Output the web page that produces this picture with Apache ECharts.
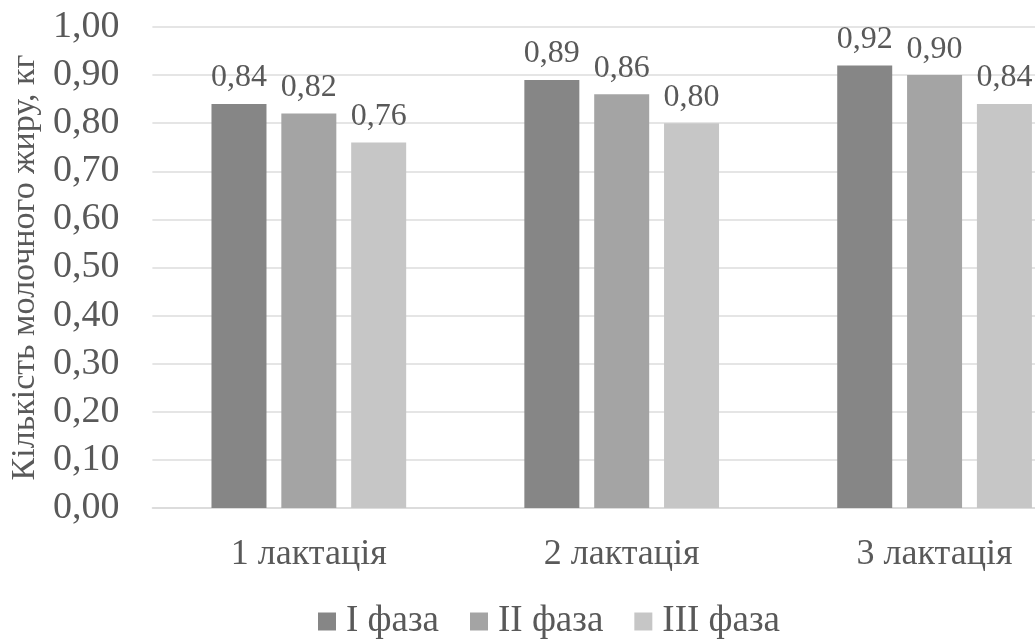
<!DOCTYPE html>
<html>
<head>
<meta charset="utf-8">
<script src="https://cdn.jsdelivr.net/npm/echarts@6/dist/echarts.min.js"></script>
<style>
html,body{margin:0;padding:0;background:#fff;overflow:hidden;width:1035px;height:639px;}
#chart{width:1091px;height:639px;}
</style>
</head>
<body>
<div id="chart"></div>
<script>
const categories = ['1 лактація', '2 лактація', '3 лактація'];
const seriesNames = ['I фаза', 'II фаза', 'III фаза'];
const phase1 = [0.84, 0.89, 0.92];
const phase2 = [0.82, 0.86, 0.90];
const phase3 = [0.76, 0.80, 0.84];
const yTicks = { min: 0, max: 1, interval: 0.1 };
const yAxisTitle = 'Кількість молочного жиру, кг';
const colors = ['#868686', '#a4a4a4', '#c6c6c6'];

const FONT = "'Liberation Serif', 'Times New Roman', serif";
const TEXT = '#595959';
const fmt = v => v.toFixed(2).replace('.', ',');

const chart = echarts.init(document.getElementById('chart'), null, { renderer: 'canvas' });
const dataSets = [phase1, phase2, phase3];
chart.setOption({
  animation: false,
  backgroundColor: '#ffffff',
  textStyle: { fontFamily: FONT },
  grid: { left: 150, right: 0, top: 27, bottom: 131, containLabel: false },
  legend: {
    data: seriesNames,
    left: 313,
    top: 598,
    itemWidth: 18,
    itemHeight: 18,
    itemGap: 31,
    icon: 'rect',
    textStyle: { fontFamily: FONT, fontSize: 37, color: TEXT, padding: [0, 0, 0, 5] }
  },
  xAxis: {
    type: 'category',
    data: categories,
    axisLine: { show: true, lineStyle: { color: '#d9d9d9', width: 1.5 } },
    axisTick: { show: false },
    axisLabel: { fontFamily: FONT, fontSize: 36, color: TEXT, margin: 29 }
  },
  yAxis: {
    type: 'value',
    min: yTicks.min,
    max: yTicks.max,
    interval: yTicks.interval,
    name: yAxisTitle,
    nameLocation: 'middle',
    nameGap: 110,
    nameRotate: 90,
    nameTextStyle: { fontFamily: FONT, fontSize: 34, color: TEXT },
    axisLine: { show: false },
    axisTick: { show: false },
    axisLabel: { fontFamily: FONT, fontSize: 38, color: TEXT, margin: 33, formatter: v => fmt(v) },
    splitLine: { show: true, lineStyle: { color: '#dcdcdc', width: 1.5 } }
  },
  series: seriesNames.map((name, i) => ({
    name: name,
    type: 'bar',
    data: dataSets[i],
    barWidth: 55,
    barGap: '27%',
    itemStyle: { color: colors[i] },
    label: {
      show: true,
      position: 'top',
      distance: 10,
      fontFamily: FONT,
      fontSize: 32,
      color: TEXT,
      formatter: p => fmt(p.value)
    }
  }))
});
</script>
</body>
</html>
